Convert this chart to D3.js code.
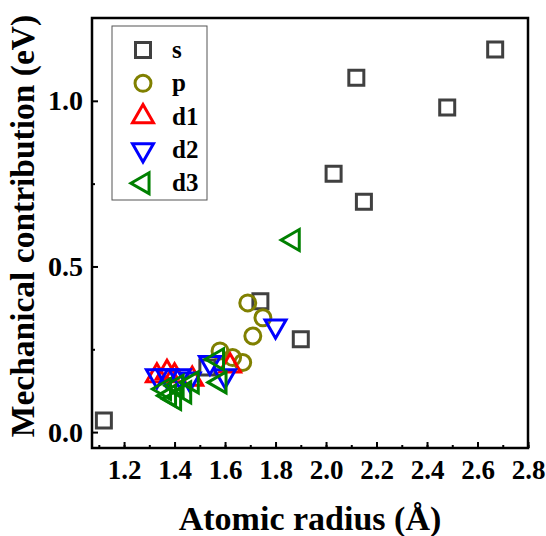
<!DOCTYPE html>
<meta charset="utf-8">
<script src="https://cdn.jsdelivr.net/npm/d3@7"></script>
<style>
  body { margin: 0; background: #fff; }
  text { font-family: "Liberation Serif", "Times New Roman", serif; font-weight: bold; }
</style>
<div id="my_dataviz"></div>
<script>

// data (atomic radius in Å, mechanical contribution in eV)
var sX  = [1.12, 1.53, 1.74, 1.90, 2.03, 2.12, 2.15, 2.48, 2.67];
var sY  = [0.035, 0.195, 0.395, 0.28, 0.78, 1.07, 0.695, 0.98, 1.155];
var pX  = [1.58, 1.63, 1.67, 1.69, 1.71, 1.75];
var pY  = [0.245, 0.225, 0.21, 0.39, 0.29, 0.345];
var d1X = [1.33, 1.37, 1.40, 1.47, 1.62];
var d1Y = [0.17, 0.18, 0.17, 0.16, 0.20];
var d2X = [1.33, 1.37, 1.42, 1.46, 1.54, 1.60, 1.80];
var d2Y = [0.17, 0.17, 0.17, 0.16, 0.21, 0.17, 0.32];
var d3X = [1.36, 1.38, 1.40, 1.41, 1.44, 1.47, 1.57, 1.58, 1.87];
var d3Y = [0.13, 0.11, 0.10, 0.14, 0.12, 0.15, 0.22, 0.15, 0.58];

var xTicks = [1.2, 1.4, 1.6, 1.8, 2.0, 2.2, 2.4, 2.6, 2.8];
var yTicks = [0.0, 0.5, 1.0];

var series = [
  {name: "s",  xs: sX,  ys: sY,  color: "#404040", shape: "square"},
  {name: "p",  xs: pX,  ys: pY,  color: "#808000", shape: "circle"},
  {name: "d1", xs: d1X, ys: d1Y, color: "#ff0000", shape: "up"},
  {name: "d2", xs: d2X, ys: d2Y, color: "#0000ff", shape: "down"},
  {name: "d3", xs: d3X, ys: d3Y, color: "#008000", shape: "left"}
];

var margin = {top: 18, right: 18, bottom: 88, left: 92},
  width = 546 - margin.left - margin.right,
  height = 536 - margin.top - margin.bottom;

var svg = d3.select("#my_dataviz")
  .append("svg")
    .attr("width", 546)
    .attr("height", 536)
  .append("g")
    .attr("transform", "translate(" + margin.left + "," + margin.top + ")");

var xScale = d3.scaleLinear().domain([1.073, 2.8]).range([0, width]);
var yScale = d3.scaleLinear().domain([-0.048, 1.25]).range([height, 0]);

// marker paths
var triangle = d3.symbol().type(d3.symbolTriangle).size(190);
function markerPath(shape) {
  if (shape == "square") return d3.symbol().type(d3.symbolSquare).size(225)();
  if (shape == "circle") return d3.symbol().type(d3.symbolCircle).size(200)();
  return triangle();
}
function rot(shape) {
  if (shape == "down") return " rotate(180)";
  if (shape == "left") return " rotate(-90)";
  return "";
}

// axes: ticks pointing inward, minor ticks in between
svg.append("g")
    .attr("transform", "translate(0," + height + ")")
    .call(d3.axisBottom(xScale).tickValues(d3.range(1.1, 2.85, 0.1)).tickSize(-3).tickFormat(""));
var xAxis = svg.append("g")
    .attr("transform", "translate(0," + height + ")")
    .call(d3.axisBottom(xScale).tickValues(xTicks).tickSize(-6).tickPadding(12).tickFormat(d3.format(".1f")));
svg.append("g")
    .call(d3.axisLeft(yScale).tickValues([0.25, 0.75]).tickSize(-3).tickFormat(""));
var yAxis = svg.append("g")
    .call(d3.axisLeft(yScale).tickValues(yTicks).tickSize(-6).tickPadding(9).tickFormat(d3.format(".1f")));

svg.selectAll(".tick line").attr("stroke", "#000").attr("stroke-width", 2);
svg.selectAll(".domain").remove();
xAxis.selectAll(".tick text").style("font-size", "27px").attr("fill", "#000");
yAxis.selectAll(".tick text").style("font-size", "28px").attr("fill", "#000");

// frame
svg.append("rect")
    .attr("width", width)
    .attr("height", height)
    .attr("fill", "none")
    .attr("stroke", "#000")
    .attr("stroke-width", 2.5);

// points
series.forEach(function(s) {
  svg.selectAll(null)
    .data(s.xs)
    .enter()
    .append("path")
      .attr("d", markerPath(s.shape))
      .attr("transform", function(d, i) {
        return "translate(" + xScale(d) + "," + yScale(s.ys[i]) + ")" + rot(s.shape);
      })
      .attr("fill", "none")
      .attr("stroke", s.color)
      .attr("stroke-width", 3);
});

// legend
var legend = svg.append("g").attr("transform", "translate(20,8)");
legend.append("rect")
    .attr("width", 95)
    .attr("height", 174)
    .attr("fill", "#fff")
    .attr("stroke", "#555")
    .attr("stroke-width", 1);
series.forEach(function(s, i) {
  var ly = 24 + i * 33.3;
  legend.append("path")
      .attr("d", markerPath(s.shape))
      .attr("transform", "translate(31," + ly + ")" + rot(s.shape))
      .attr("fill", "none")
      .attr("stroke", s.color)
      .attr("stroke-width", 3);
  legend.append("text")
      .attr("x", 60)
      .attr("y", ly + 8)
      .style("font-size", "25px")
      .text(s.name);
});

// axis titles
svg.append("text")
    .attr("x", width / 2)
    .attr("y", height + 82)
    .style("text-anchor", "middle")
    .style("font-size", "34px")
    .text("Atomic radius (Å)");

svg.append("text")
    .attr("transform", "translate(-58," + (height / 2 - 7) + ") rotate(-90)")
    .style("text-anchor", "middle")
    .style("font-size", "33.5px")
    .text("Mechanical contribution (eV)");

</script>
